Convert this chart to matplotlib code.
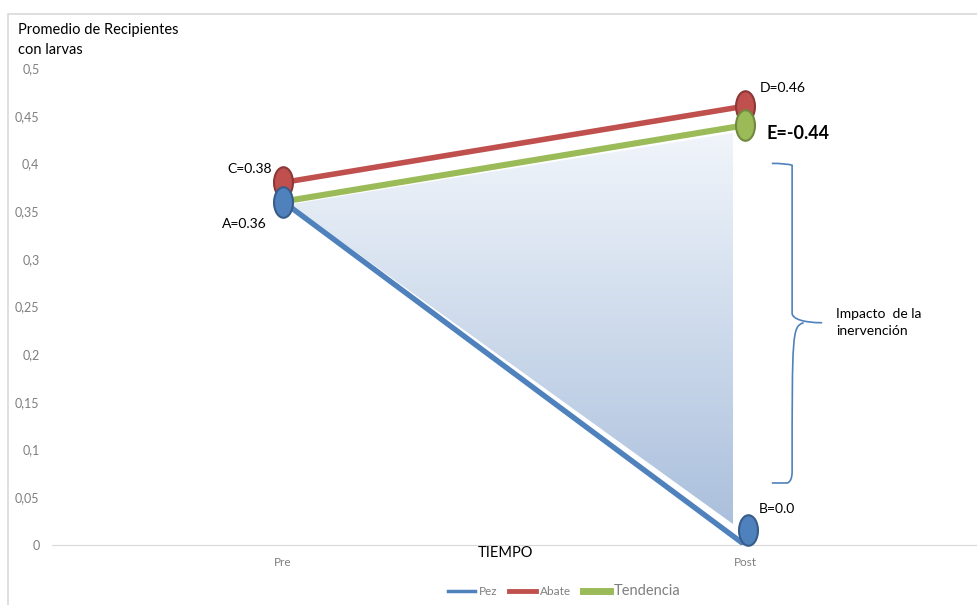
import numpy as np
import matplotlib
matplotlib.use("Agg")
import matplotlib.pyplot as plt
from matplotlib.path import Path
from matplotlib.patches import Polygon, Rectangle, PathPatch
from matplotlib.lines import Line2D
from matplotlib.transforms import Affine2D, ScaledTranslation

plt.rcParams['font.family'] = ['Lato', 'DejaVu Sans']

# datos
momentos = ['Pre', 'Post']
pez = [0.36, 0.0]
abate = [0.38, 0.46]
tendencia = [0.36, 0.44]
etiquetas_pez = ['A=0.36', 'B=0.0']
etiquetas_abate = ['C=0.38', 'D=0.46']
etiqueta_tendencia = 'E=-0.44'
yticks = [0, 0.05, 0.1, 0.15, 0.2, 0.25, 0.3, 0.35, 0.4, 0.45, 0.5]
ytick_labels = ['0', '0,05', '0,1', '0,15', '0,2', '0,25', '0,3', '0,35', '0,4', '0,45', '0,5']

azul, azul_b = '#4f81bd', '#385d8a'
rojo, rojo_b = '#c0504d', '#8c3836'
verde, verde_b = '#9bbb59', '#71893f'

fig = plt.figure(figsize=(9.77, 6.05), dpi=100)
ax = fig.add_axes([52 / 977, 1 - 545 / 605, 924 / 977, 477 / 605])
x = np.arange(len(momentos))

# marco del grafico
fig.patches.append(Rectangle((8 / 977, -0.1), 2, 1.1 - 14 / 605, transform=fig.transFigure,
                             fill=False, edgecolor='#d9d9d9', lw=1.2))

# triangulo con degradado entre la tendencia y el pez
tri = Polygon([(x[0] + 0.015, pez[0] - 0.003),
               (x[1] - 0.026, tendencia[1] - 0.008),
               (x[1] - 0.026, pez[1] + 0.022)],
              closed=True, facecolor='none', edgecolor='none')
ax.add_patch(tri)
grad = np.linspace(0, 1, 256).reshape(-1, 1)
cmap = matplotlib.colors.LinearSegmentedColormap.from_list('g', ['#a7bddb', '#f2f6fb'])
im = ax.imshow(grad, cmap=cmap, aspect='auto', extent=(0, 1, 0, 0.44), origin='lower',
               zorder=1)
im.set_clip_path(tri)

# marcador eliptico
elipse = Path.unit_circle().transformed(Affine2D().scale(0.62, 1.0))

ax.plot(x, pez, color=azul, lw=3.9, zorder=3, solid_capstyle='butt')
ax.plot(x, tendencia, color=verde, lw=4.4, zorder=3, solid_capstyle='butt')
ax.plot(x, abate, color=rojo, lw=4.0, zorder=3, solid_capstyle='butt')

ax.plot(x[1], abate[1], marker=elipse, ms=22, color=rojo, mec=rojo_b, mew=1.5, zorder=4)
ax.plot(x[0], abate[0], marker=elipse, ms=22, color=rojo, mec=rojo_b, mew=1.5, zorder=4)
ax.plot(x[1], tendencia[1], marker=elipse, ms=22, color=verde, mec=verde_b, mew=1.5, zorder=5)
ax.plot(x[0], pez[0], marker=elipse, ms=22, color=azul, mec=azul_b, mew=1.5, zorder=5)
sube = ax.transData + ScaledTranslation(0.03, 0.15, fig.dpi_scale_trans)
ax.plot(x[1], pez[1], marker=elipse, ms=22, color=azul, mec=azul_b, mew=1.5, zorder=5,
        transform=sube, clip_on=False)

# etiquetas de valores
ax.annotate(etiquetas_abate[0], (x[0], abate[0]), xytext=(-24, 10), textcoords='offset points',
            ha='center', va='center', fontsize=10)
ax.annotate(etiquetas_pez[0], (x[0], pez[0]), xytext=(-28, -16), textcoords='offset points',
            ha='center', va='center', fontsize=10)
ax.annotate(etiquetas_abate[1], (x[1], abate[1]), xytext=(27, 13), textcoords='offset points',
            ha='center', va='center', fontsize=10)
ax.annotate(etiqueta_tendencia, (x[1], tendencia[1]), xytext=(38, -6), textcoords='offset points',
            ha='center', va='center', fontsize=13, fontweight='bold')
ax.annotate(etiquetas_pez[1], (x[1], pez[1]), xytext=(23, 26), textcoords='offset points',
            ha='center', va='center', fontsize=10)

# llave del impacto
xl, xm, xt = 1.058, 1.102, 1.167
yt, ymid, yb = 0.400, 0.233, 0.065
verts = [(xl, yt), (xm - 0.01, yt), (xm, yt - 0.002), (xm, yt - 0.012),
         (xm, ymid + 0.01), (xm, ymid + 0.004), (xt - 0.04, ymid), (xt, ymid),
         (xt - 0.04, ymid), (xm, ymid - 0.004), (xm, ymid - 0.01),
         (xm, yb + 0.012), (xm, yb + 0.002), (xm - 0.01, yb), (xl, yb)]
codes = [Path.MOVETO, Path.CURVE3, Path.CURVE3, Path.LINETO,
         Path.LINETO, Path.CURVE4, Path.CURVE4, Path.CURVE4,
         Path.MOVETO, Path.CURVE4, Path.CURVE4,
         Path.LINETO, Path.CURVE3, Path.CURVE3, Path.LINETO]
ax.add_patch(PathPatch(Path(verts, codes), fill=False, edgecolor=azul, lw=1.2, zorder=3))
ax.text(1.197, ymid, 'Impacto  de la\ninervención', ha='left', va='center', fontsize=10,
        linespacing=1.5)

# ejes
ax.set_xlim(-0.5, 1.5)
ax.set_ylim(0, 0.5)
ax.set_xticks(x)
ax.set_xticklabels(momentos, fontsize=8.5, color='#7f7f7f')
ax.set_yticks(yticks)
ax.set_yticklabels(ytick_labels, fontsize=9, color='#7f7f7f')
ax.tick_params(axis='x', length=0, pad=9)
ax.tick_params(axis='y', length=0, pad=9)
for s in ['top', 'right', 'left']:
    ax.spines[s].set_visible(False)
ax.spines['bottom'].set_color('#d9d9d9')
ax.patch.set_alpha(0)

fig.text(18 / 977, 1 - 40 / 605, 'Promedio de Recipientes\ncon larvas', ha='left', va='center',
         fontsize=10.5, linespacing=1.5)
fig.text(505 / 977, 1 - 553 / 605, 'TIEMPO', ha='center', va='center', fontsize=10.5)

# leyenda
handles = [Line2D([], [], color=azul, lw=2.5), Line2D([], [], color=rojo, lw=3.5),
           Line2D([], [], color=verde, lw=5)]
leg = fig.legend(handles, ['Pez', 'Abate', 'Tendencia'], loc='center',
                 bbox_to_anchor=(564 / 977, 1 - 591 / 605), ncol=3, frameon=False,
                 fontsize=8.5, handlelength=2.3, handletextpad=0.3, columnspacing=1.0)
for t in leg.get_texts():
    t.set_color('#7f7f7f')
leg.get_texts()[2].set_fontsize(10.5)

fig.savefig('out.png', dpi=100)
